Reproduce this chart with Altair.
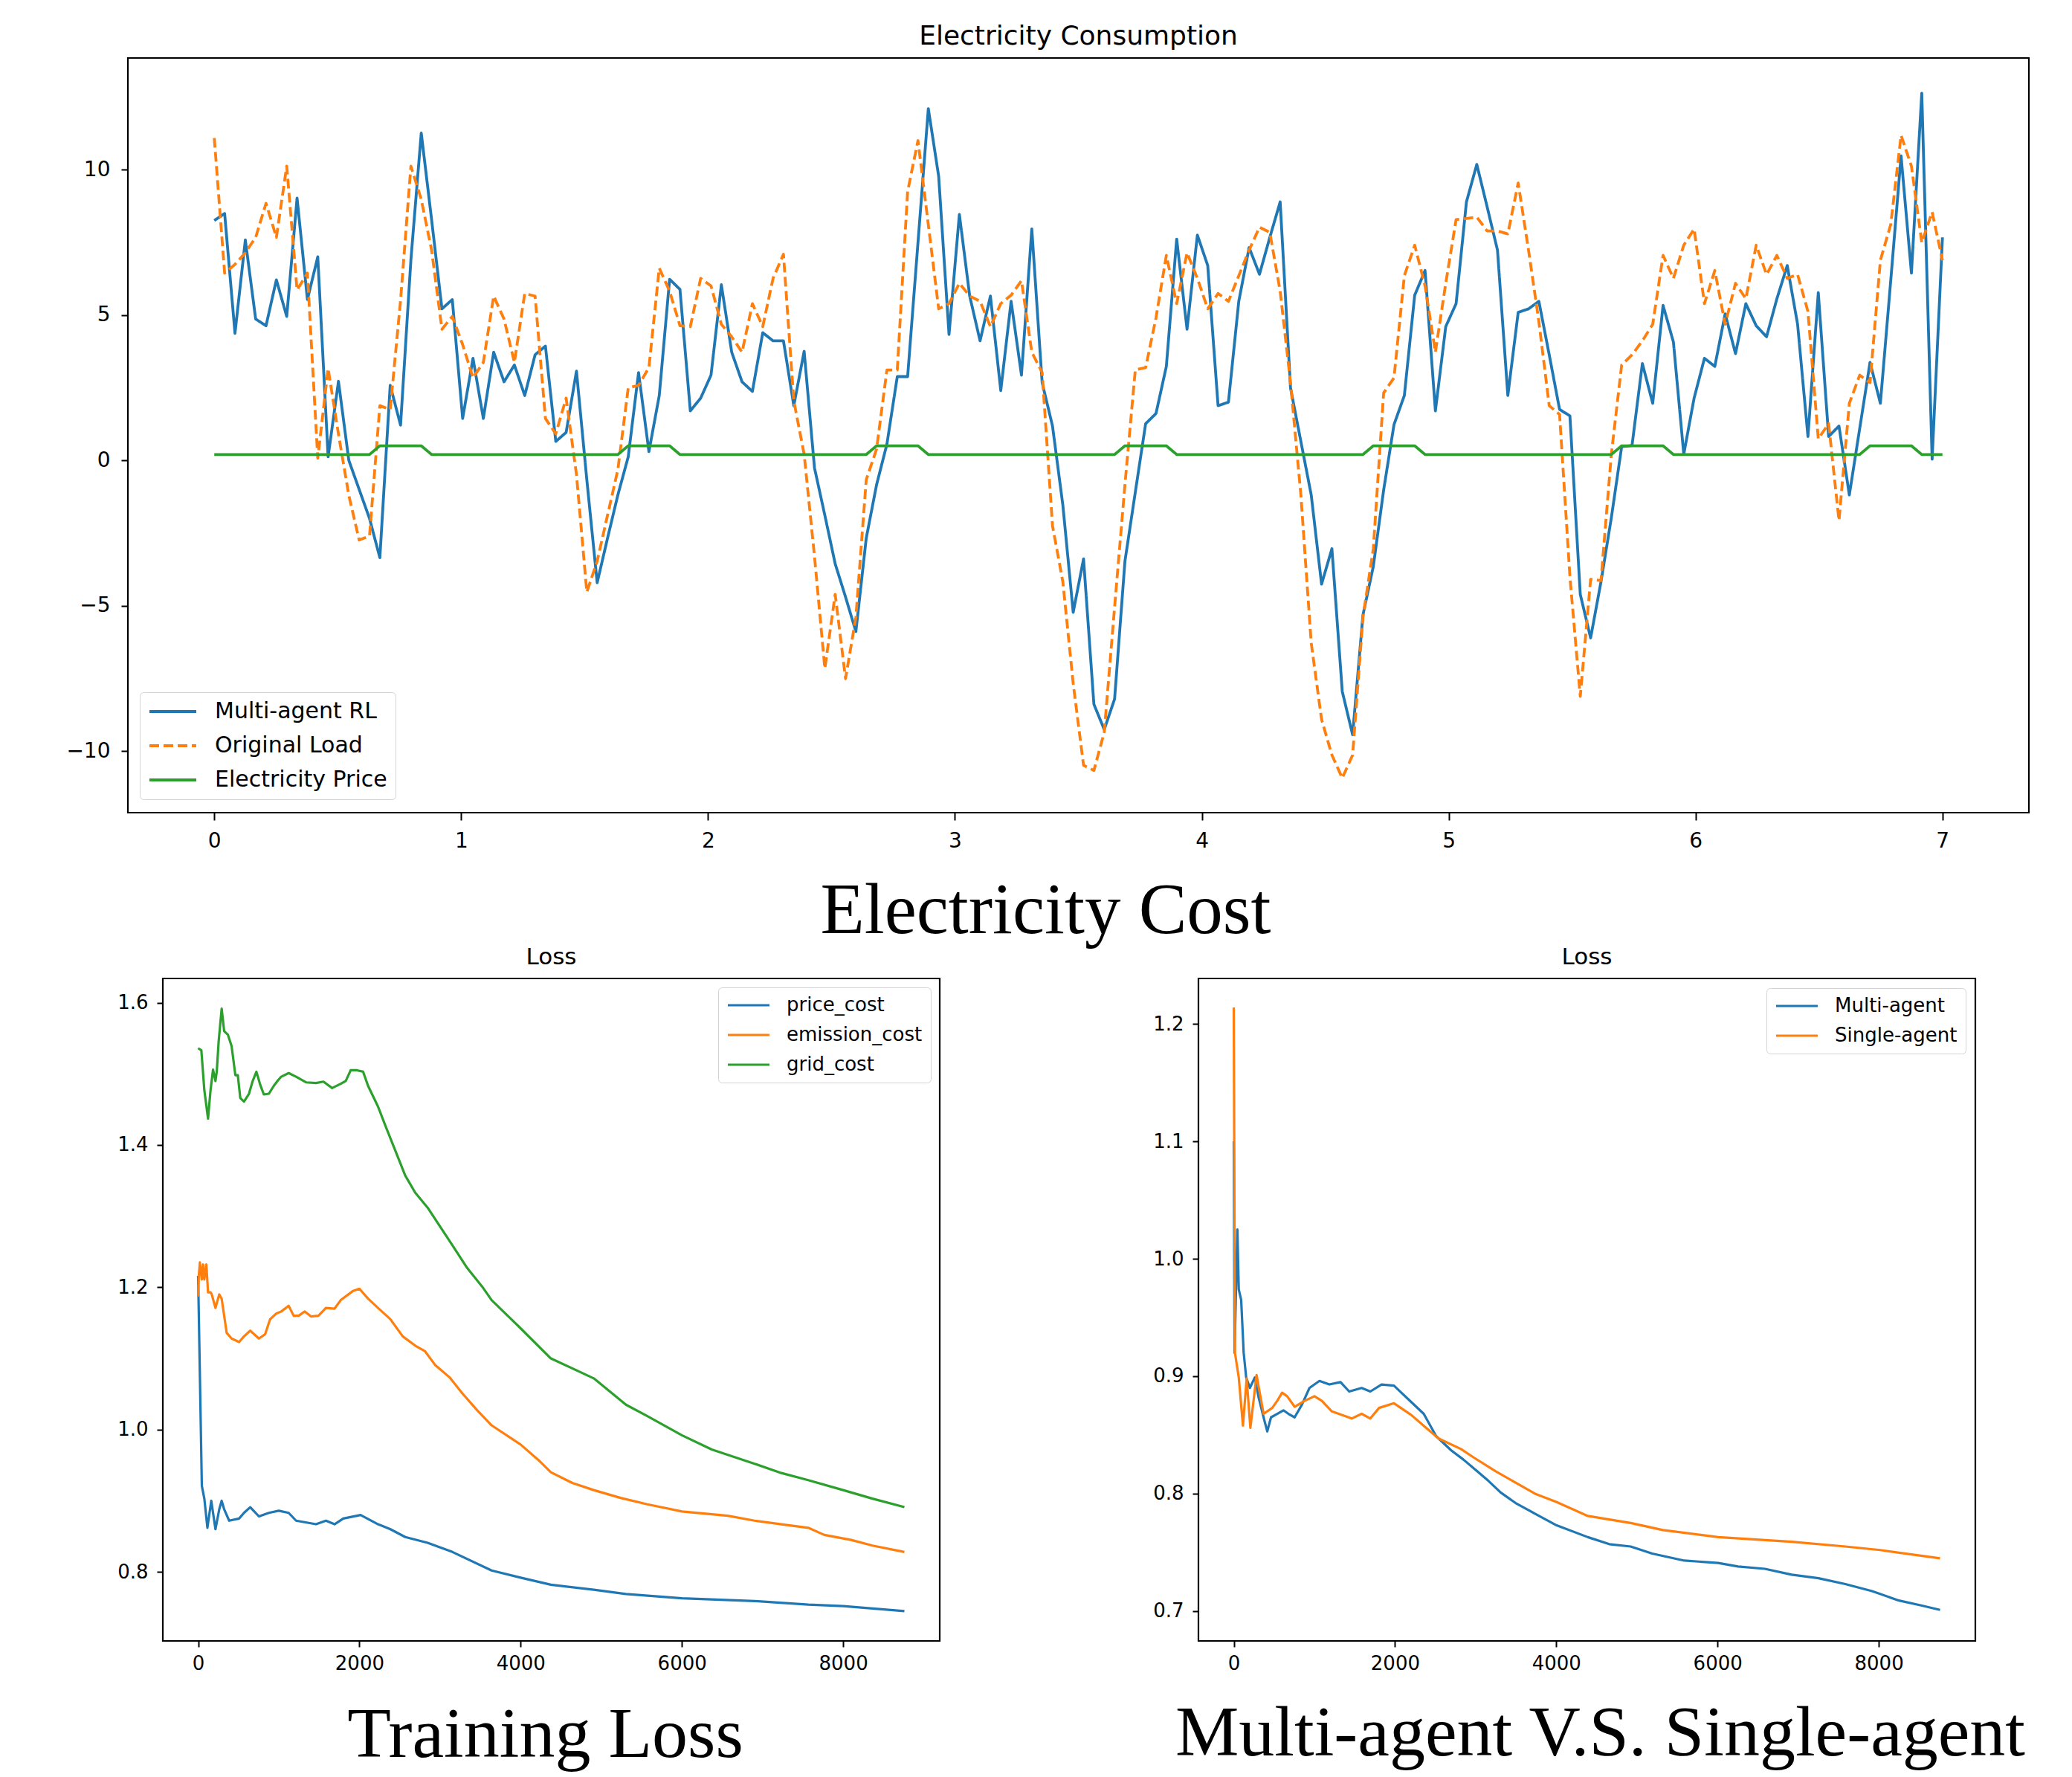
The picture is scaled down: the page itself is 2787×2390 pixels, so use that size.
import altair as alt
import pandas as pd

# ---------------- top panel: hourly values over 7 days ----------------
N_POINTS = 168
DAYS = 7

multi_agent_rl = [
    8.25, 8.49, 4.37, 7.58, 4.86, 4.63, 6.21, 4.95, 9.02, 5.53, 7.0, 0.12,
    2.72, 0.0, -1.0, -2.0, -3.35, 2.58, 1.21, 6.9, 11.26, 8.28, 5.21, 5.53,
    1.44, 3.51, 1.44, 3.72, 2.70, 3.28, 2.23, 3.63, 3.93, 0.65, 0.96, 3.07,
    -0.67, -4.21, -2.68, -1.19, 0.12, 3.02, 0.30, 2.23, 6.23, 5.88, 1.70, 2.14,
    2.93, 6.04, 3.72, 2.70, 2.37, 4.39, 4.11, 4.11, 1.88, 3.75, -0.26, -1.89,
    -3.56, -4.70, -5.89, -2.68, -0.84, 0.56, 2.88, 2.88, 7.49, 12.1, 9.77, 4.33,
    8.46, 5.65, 4.11, 5.65, 2.40, 5.47, 2.93, 7.96, 2.67, 1.18, -1.54, -5.23,
    -3.39, -8.39, -9.26, -8.21, -3.47, -1.1, 1.26, 1.61, 3.23, 7.61, 4.51, 7.75,
    6.70, 1.88, 2.0, 5.47, 7.32, 6.40, 7.67, 8.89, 2.49, 0.65, -1.19, -4.26,
    -3.04, -7.95, -9.44, -5.32, -3.65, -1.02, 1.23, 2.23, 5.68, 6.53, 1.70, 4.60,
    5.39, 8.89, 10.18, 8.72, 7.23, 2.23, 5.09, 5.21, 5.47, 3.63, 1.75, 1.53,
    -4.61, -6.11, -4.18, -1.98, 0.47, 0.51, 3.33, 1.96, 5.33, 4.07, 0.21, 2.14,
    3.51, 3.23, 5.04, 3.67, 5.39, 4.63, 4.25, 5.56, 6.70, 4.68, 0.82, 5.77,
    0.82, 1.18, -1.19, 1.09, 3.37, 1.96, 6.18, 10.47, 6.44, 12.63, 0.04, 7.67,
]

original_load = [
    11.09, 6.44, 6.74, 7.14, 7.67, 8.84, 7.67, 10.12, 5.86, 6.44, 0.07, 3.16,
    0.9, -1.2, -2.74, -2.6, 1.88, 1.75, 5.5, 10.12, 8.98, 7.23, 4.51, 4.95,
    3.98, 2.84, 3.37, 5.65, 4.86, 3.37, 5.74, 5.65, 1.44, 0.91, 2.14, -0.49,
    -4.53, -3.47, -1.89, -0.32, 2.49, 2.58, 3.19, 6.61, 5.82, 4.63, 4.60, 6.26,
    6.0, 4.68, 4.25, 3.72, 5.39, 4.60, 6.26, 7.09, 2.05, 0.21, -3.30, -7.16,
    -4.61, -7.51, -5.40, -0.67, 0.39, 3.11, 3.11, 9.25, 11.0, 8.11, 5.21, 5.39,
    6.09, 5.65, 5.47, 4.60, 5.39, 5.68, 6.18, 3.72, 3.02, -2.25, -4.18, -7.68,
    -10.49, -10.67, -9.35, -5.05, -0.84, 3.11, 3.19, 4.9, 7.05, 5.39, 7.14, 6.26,
    5.21, 5.74, 5.47, 6.35, 7.23, 8.02, 7.84, 5.82, 2.67, -1.19, -6.28, -8.91,
    -10.14, -10.93, -10.14, -5.40, -3.04, 2.32, 2.84, 6.35, 7.40, 6.0, 3.72, 6.09,
    8.28, 8.32, 8.37, 7.89, 7.89, 7.79, 9.54, 7.23, 4.77, 1.88, 1.58, -4.0,
    -8.12, -4.09, -4.14, 0.2, 3.28, 3.63, 4.11, 4.68, 7.05, 6.26, 7.40, 7.96,
    5.39, 6.53, 4.68, 6.09, 5.56, 7.40, 6.39, 7.05, 6.26, 6.39, 5.12, 0.74,
    1.26, -2.07, 1.96, 2.93, 2.67, 6.88, 8.11, 11.18, 10.12, 7.49, 8.54, 6.88,
]

electricity_price = [
    0.2, 0.2, 0.2, 0.2, 0.2, 0.2, 0.2, 0.2, 0.2, 0.2, 0.2, 0.2, 0.2, 0.2, 0.2, 0.2, 0.5, 0.5, 0.5, 0.5, 0.5, 0.2, 0.2, 0.2,
    0.2, 0.2, 0.2, 0.2, 0.2, 0.2, 0.2, 0.2, 0.2, 0.2, 0.2, 0.2, 0.2, 0.2, 0.2, 0.2, 0.5, 0.5, 0.5, 0.5, 0.5, 0.2, 0.2, 0.2,
    0.2, 0.2, 0.2, 0.2, 0.2, 0.2, 0.2, 0.2, 0.2, 0.2, 0.2, 0.2, 0.2, 0.2, 0.2, 0.2, 0.5, 0.5, 0.5, 0.5, 0.5, 0.2, 0.2, 0.2,
    0.2, 0.2, 0.2, 0.2, 0.2, 0.2, 0.2, 0.2, 0.2, 0.2, 0.2, 0.2, 0.2, 0.2, 0.2, 0.2, 0.5, 0.5, 0.5, 0.5, 0.5, 0.2, 0.2, 0.2,
    0.2, 0.2, 0.2, 0.2, 0.2, 0.2, 0.2, 0.2, 0.2, 0.2, 0.2, 0.2, 0.2, 0.2, 0.2, 0.2, 0.5, 0.5, 0.5, 0.5, 0.5, 0.2, 0.2, 0.2,
    0.2, 0.2, 0.2, 0.2, 0.2, 0.2, 0.2, 0.2, 0.2, 0.2, 0.2, 0.2, 0.2, 0.2, 0.2, 0.2, 0.5, 0.5, 0.5, 0.5, 0.5, 0.2, 0.2, 0.2,
    0.2, 0.2, 0.2, 0.2, 0.2, 0.2, 0.2, 0.2, 0.2, 0.2, 0.2, 0.2, 0.2, 0.2, 0.2, 0.2, 0.5, 0.5, 0.5, 0.5, 0.5, 0.2, 0.2, 0.2,
]

TOP_SERIES = ["Multi-agent RL", "Original Load", "Electricity Price"]
TAB_BLUE, TAB_ORANGE, TAB_GREEN = "#1f77b4", "#ff7f0e", "#2ca02c"

# ---------------- bottom-left: training loss ----------------
price_cost_step = [0, 46, 77, 115, 163, 215, 262, 292, 323, 385, 508, 569, 646, 754, 877, 1000, 1123,
                   1215, 1462, 1585, 1692, 1800, 2015, 2231, 2385, 2569, 2846, 3154, 3640, 4000, 4375,
                   4907, 5306, 6000, 6902, 7567, 8000, 8760]
price_cost = [1.216, 0.921, 0.903, 0.862, 0.900, 0.860, 0.888, 0.900, 0.888, 0.872, 0.875, 0.883, 0.891,
              0.878, 0.883, 0.886, 0.883, 0.872, 0.867, 0.872, 0.867, 0.875, 0.880, 0.867, 0.860, 0.849,
              0.841, 0.828, 0.802, 0.792, 0.782, 0.775, 0.769, 0.763, 0.759, 0.754, 0.752, 0.745]

emission_cost_step = [0, 8, 22, 45, 62, 77, 102, 123, 154, 169, 215, 262, 292, 354, 415, 508, 569, 646,
                      754, 831, 892, 969, 1031, 1123, 1185, 1246, 1323, 1400, 1492, 1585, 1692, 1769, 1923,
                      2000, 2108, 2231, 2385, 2538, 2692, 2815, 2938, 3123, 3277, 3462, 3640, 4000, 4242,
                      4375, 4641, 4907, 5239, 5572, 6000, 6569, 6902, 7234, 7567, 7766, 8098, 8364, 8760]
emission_cost = [1.187, 1.216, 1.235, 1.211, 1.232, 1.211, 1.232, 1.193, 1.193, 1.190, 1.171, 1.190,
                 1.184, 1.136, 1.128, 1.123, 1.131, 1.139, 1.128, 1.134, 1.155, 1.163, 1.166, 1.174,
                 1.160, 1.160, 1.166, 1.159, 1.160, 1.171, 1.170, 1.182, 1.195, 1.198, 1.184, 1.171,
                 1.155, 1.131, 1.118, 1.110, 1.091, 1.073, 1.051, 1.027, 1.006, 0.979, 0.955, 0.940,
                 0.925, 0.915, 0.904, 0.895, 0.885, 0.879, 0.872, 0.867, 0.862, 0.852, 0.845, 0.837, 0.828]

grid_cost_step = [0, 40, 77, 123, 154, 185, 215, 231, 255, 292, 323, 369, 415, 462, 492, 523, 569, 631,
                  677, 723, 769, 815, 877, 938, 985, 1031, 1123, 1215, 1338, 1462, 1554, 1662, 1769, 1831,
                  1892, 1969, 2046, 2108, 2231, 2323, 2446, 2569, 2692, 2846, 2969, 3154, 3338, 3523,
                  3640, 3976, 4375, 4907, 5306, 5572, 6000, 6370, 6902, 7234, 7567, 8000, 8364, 8760]
grid_cost = [1.536, 1.533, 1.477, 1.437, 1.477, 1.506, 1.490, 1.503, 1.546, 1.5915, 1.560, 1.555, 1.539,
             1.498, 1.498, 1.466, 1.461, 1.472, 1.490, 1.503, 1.485, 1.471, 1.472, 1.483, 1.490, 1.496,
             1.501, 1.496, 1.488, 1.487, 1.489, 1.480, 1.486, 1.490, 1.505, 1.505, 1.503, 1.483, 1.454,
             1.427, 1.392, 1.357, 1.333, 1.312, 1.291, 1.259, 1.227, 1.201, 1.182, 1.145, 1.100, 1.072,
             1.035, 1.019, 0.992, 0.972, 0.952, 0.939, 0.929, 0.915, 0.903, 0.891]

# ---------------- bottom-right: multi vs single agent ----------------
multi_agent_step = [0, 10, 45, 62, 92, 123, 154, 200, 262, 308, 385, 416, 462, 539, 616, 678, 755, 847,
                    939, 1063, 1186, 1324, 1432, 1586, 1694, 1833, 1987, 2079, 2202, 2356, 2510, 2695,
                    2849, 3003, 3157, 3311, 3496, 3736, 4005, 4391, 4657, 4923, 5190, 5589, 6008, 6254,
                    6587, 6920, 7252, 7585, 7917, 8250, 8516, 8760]
multi_agent = [1.100, 0.920, 1.025, 0.974, 0.965, 0.920, 0.899, 0.890, 0.899, 0.882, 0.861, 0.853,
               0.865, 0.868, 0.871, 0.868, 0.865, 0.876, 0.890, 0.896, 0.893, 0.895, 0.887, 0.890,
               0.887, 0.893, 0.892, 0.886, 0.878, 0.868, 0.849, 0.837, 0.829, 0.820, 0.811, 0.801,
               0.792, 0.783, 0.773, 0.763, 0.757, 0.755, 0.749, 0.743, 0.741, 0.738, 0.736, 0.731,
               0.728, 0.723, 0.717, 0.709, 0.705, 0.701]

single_agent_step = [0, 15, 62, 114, 160, 206, 283, 317, 370, 477, 539, 600, 662, 755, 878, 1001, 1093,
                     1217, 1463, 1586, 1694, 1802, 1987, 2202, 2387, 2541, 2818, 2972, 3249, 3557, 3736,
                     4000, 4391, 4923, 5323, 6008, 6920, 7585, 8017, 8760]
single_agent = [1.214, 0.920, 0.899, 0.858, 0.898, 0.856, 0.901, 0.888, 0.868, 0.873, 0.879, 0.886,
                0.883, 0.874, 0.879, 0.883, 0.879, 0.870, 0.864, 0.868, 0.864, 0.873, 0.877, 0.867,
                0.856, 0.847, 0.838, 0.831, 0.819, 0.807, 0.800, 0.793, 0.781, 0.775, 0.769, 0.763,
                0.759, 0.755, 0.752, 0.745]

SANS = "DejaVu Sans"
SERIF = "Liberation Serif"
FRAME = alt.ViewConfig(stroke="#000000", strokeWidth=2.2)

# ---------------- build top chart ----------------
t = [i * DAYS / (N_POINTS - 1) for i in range(N_POINTS)]
top_df = pd.DataFrame({
    "t": t * 3,
    "value": multi_agent_rl + original_load + electricity_price,
    "series": [TOP_SERIES[0]] * N_POINTS + [TOP_SERIES[1]] * N_POINTS + [TOP_SERIES[2]] * N_POINTS,
})

top_legend = alt.Legend(
    title=None, orient="none", legendX=16, legendY=853,
    labelFont=SANS, labelFontSize=30, labelColor="#000000",
    symbolType="stroke", symbolSize=3969, symbolStrokeWidth=3.8,
    labelOffset=23, rowPadding=16, padding=11, clipHeight=30,
    strokeColor="#d4d4d4", fillColor="white", cornerRadius=5, labelLimit=0,
)

top_base = alt.Chart(top_df).mark_line(strokeWidth=3.8, strokeJoin="round").encode(
    x=alt.X("t:Q",
            scale=alt.Scale(domain=[-0.35, 7.35], nice=False, zero=False),
            axis=alt.Axis(values=[0, 1, 2, 3, 4, 5, 6, 7], format="d", grid=False, domain=False,
                          tickSize=10, tickWidth=2, tickColor="#000", labelPadding=14,
                          labelFont=SANS, labelFontSize=28, labelColor="#000",
                          title="Electricity Cost", titleFont=SERIF, titleFontSize=97,
                          titleFontWeight="normal", titleColor="#000",
                          titleX=1234, titleY=161, titleAlign="center", titleBaseline="alphabetic")),
    y=alt.Y("value:Q",
            scale=alt.Scale(domain=[-12.12, 13.84], nice=False, zero=False),
            axis=alt.Axis(values=[-10, -5, 0, 5, 10], format="d", grid=False, domain=False,
                          tickSize=9, tickWidth=2, tickColor="#000", labelPadding=15,
                          labelFont=SANS, labelFontSize=28, labelColor="#000", title=None)),
    color=alt.Color("series:N", scale=alt.Scale(domain=TOP_SERIES, range=[TAB_BLUE, TAB_ORANGE, TAB_GREEN]),
                    legend=top_legend),
    strokeDash=alt.StrokeDash("series:N", scale=alt.Scale(domain=TOP_SERIES, range=[[1, 0], [13, 6], [1, 0]]),
                              legend=top_legend),
)

top = alt.layer(
    *[top_base.transform_filter(alt.datum.series == s) for s in TOP_SERIES]
).properties(
    width=2557, height=1015, view=FRAME,
    title=alt.Title("Electricity Consumption", font=SANS, fontSize=36, fontWeight="normal",
                    color="#000", anchor="middle", baseline="alphabetic", offset=-18),
)


def loss_chart(series_names, steps_list, values_list, colors, y_domain, y_ticks, caption,
               cap_x, cap_y, legend_offset):
    frames = []
    for name, st, vals in zip(series_names, steps_list, values_list):
        frames.append(pd.DataFrame({"step": st, "value": vals, "series": name}))
    df = pd.concat(frames, ignore_index=True)
    legend = alt.Legend(
        title=None, orient="top-right", offset=legend_offset,
        labelFont=SANS, labelFontSize=26, labelColor="#000",
        symbolType="stroke", symbolSize=3136, symbolStrokeWidth=3.2,
        labelOffset=21, rowPadding=14, padding=11, clipHeight=26,
        strokeColor="#d4d4d4", fillColor="white", cornerRadius=5, labelLimit=0,
    )
    base = alt.Chart(df).mark_line(strokeWidth=3.2, strokeJoin="round").encode(
        x=alt.X("step:Q",
                scale=alt.Scale(domain=[-438, 9198], nice=False, zero=False),
                axis=alt.Axis(values=[0, 2000, 4000, 6000, 8000], format="d", grid=False, domain=False,
                              tickSize=8, tickWidth=2, tickColor="#000", labelPadding=9,
                              labelFont=SANS, labelFontSize=26, labelColor="#000",
                              title=caption, titleFont=SERIF, titleFontSize=96,
                              titleFontWeight="normal", titleColor="#000",
                              titleX=cap_x, titleY=cap_y, titleAlign="center",
                              titleBaseline="alphabetic")),
        y=alt.Y("value:Q",
                scale=alt.Scale(domain=y_domain, nice=False, zero=False),
                axis=alt.Axis(values=y_ticks, format=".1f", grid=False, domain=False,
                              tickSize=8, tickWidth=2, tickColor="#000", labelPadding=12,
                              labelFont=SANS, labelFontSize=26, labelColor="#000", title=None)),
        color=alt.Color("series:N", scale=alt.Scale(domain=series_names, range=colors), legend=legend),
    )
    return alt.layer(
        *[base.transform_filter(alt.datum.series == s) for s in series_names]
    ).properties(
        width=1045, height=891, view=FRAME,
        title=alt.Title("Loss", font=SANS, fontSize=31, fontWeight="normal", color="#000",
                        anchor="middle", baseline="alphabetic", offset=-12),
    )


bl = loss_chart(["price_cost", "emission_cost", "grid_cost"],
                [price_cost_step, emission_cost_step, grid_cost_step],
                [price_cost, emission_cost, grid_cost],
                [TAB_BLUE, TAB_ORANGE, TAB_GREEN],
                [0.703, 1.634], [0.8, 1.0, 1.2, 1.4, 1.6],
                "Training Loss", 514, 155, 12)

br = loss_chart(["Multi-agent", "Single-agent"],
                [multi_agent_step, single_agent_step],
                [multi_agent, single_agent],
                [TAB_BLUE, TAB_ORANGE],
                [0.6746, 1.2387], [0.7, 0.8, 0.9, 1.0, 1.1, 1.2],
                "Multi-agent V.S. Single-agent", 540, 153, 13)

# invisible 1x1 spacer that shifts the bottom row relative to the top panel
spacer = alt.Chart(pd.DataFrame({"s": [0]})).mark_point(opacity=0).encode(
    x=alt.X("s:Q", axis=None), y=alt.Y("s:Q", axis=None)
).properties(width=1, height=1, view=alt.ViewConfig(stroke="transparent", strokeWidth=0))

pair = alt.hconcat(bl, br, spacing=283).resolve_scale(color="independent")
bottom = alt.hconcat(spacer, pair, spacing=-20)

chart = alt.vconcat(top, bottom, spacing=-5).resolve_scale(
    color="independent", strokeDash="independent"
).properties(
    padding={"left": 79, "top": 21, "right": 5, "bottom": 0},
    background="white",
)

chart.save("out.html", embed_options={"renderer": "svg", "actions": False})
